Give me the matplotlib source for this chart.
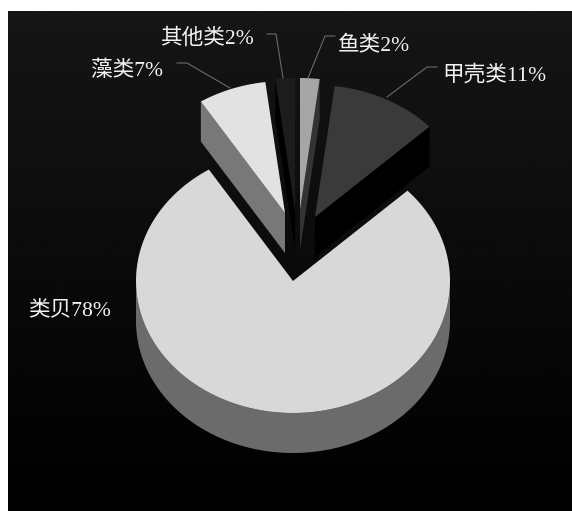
#Exploded 3D style pie chart, drawn by hand with polygons

import numpy as np
import matplotlib
matplotlib.use('Agg')
import matplotlib.pyplot as plt
from matplotlib.patches import Polygon

plt.rcParams['font.family'] = ['Liberation Serif', 'Noto Sans CJK SC']

#slice data, clockwise from twelve o'clock
labels = ['鱼类2%', '甲壳类11%', '类贝78%', '藻类7%', '其他类2%']
values = [2, 11, 78, 7, 2]
top_colors = ['#a6a6a6', '#3a3a3a', '#d8d8d8', '#e2e2e2', '#1c1c1c']
side_colors = ['#333333', '#000000', '#6b6b6b', '#787878', '#000000']

#pie centre of each slice after pulling it out
centers = [(300, 210), (315, 217), (293, 281), (285, 213), (295, 210)]
label_pos = [(338, 45), (442, 75), (28, 310), (91, 71), (160, 39)]
leaders = [
    [(335, 36), (325, 36), (308, 78)],
    [(437, 67), (427, 67), (387, 97)],
    None,
    [(177, 63), (187, 63), (230, 88)],
    [(267, 34), (276, 34), (283, 78)],
]

RX = 157
RY = 132
DEPTH = 40


def rimPoints(cx, cy, start, end):
    #angles in degrees, clockwise from the top of the ellipse
    t = np.radians(np.linspace(start, end, 240))
    return np.column_stack((cx + RX * np.sin(t), cy - RY * np.cos(t)))


def drawSlice(ax, center, start, end, top, side):
    cx, cy = center
    rim = rimPoints(cx, cy, start, end)
    down = np.array([0, DEPTH])

    #outer wall, only the part facing the viewer
    a = max(start, 90)
    b = min(end, 270)
    if a < b:
        wall = rimPoints(cx, cy, a, b)
        ax.add_patch(Polygon(np.vstack((wall, wall[::-1] + down)), fc=side, ec='none', zorder=2))

    #cut faces that can be seen from above
    c = np.array(center, dtype=float)
    if end <= 90:
        p = rim[-1]
        ax.add_patch(Polygon([c, p, p + down, c + down], fc=side, ec='none', zorder=2))
    if start >= 270:
        p = rim[0]
        ax.add_patch(Polygon([c, p, p + down, c + down], fc=side, ec='none', zorder=2))

    ax.add_patch(Polygon(np.vstack((c, rim)), fc=top, ec='none', zorder=3))


fig = plt.figure(figsize=(5.72, 5.11), dpi=100)
ax = fig.add_axes([0, 0, 1, 1])
ax.axis('off')

#dark backdrop fading to black
shade = np.linspace(0.085, 0.0, 256).reshape(-1, 1)
ax.imshow(shade, cmap='gray', vmin=0, vmax=1, extent=(8, 572, 511, 11),
          aspect='auto', interpolation='bilinear', zorder=0)
ax.set_xlim(0, 572)
ax.set_ylim(511, 0)

edges = np.concatenate(([0], np.cumsum(values))) / sum(values) * 360

#big slice first, the pulled out ones sit on top of it
order = [2, 1, 0, 4, 3]
for i in order:
    drawSlice(ax, centers[i], edges[i], edges[i + 1], top_colors[i], side_colors[i])

for name, pos, line in zip(labels, label_pos, leaders):
    ax.text(pos[0], pos[1], name, color='#f2f2f2', fontsize=15.6, va='center', ha='left', zorder=5)
    if line is not None:
        xs, ys = zip(*line)
        ax.plot(xs, ys, color='#6a6a6a', lw=0.8, zorder=4)

fig.savefig('out.png', dpi=100, facecolor='white')
